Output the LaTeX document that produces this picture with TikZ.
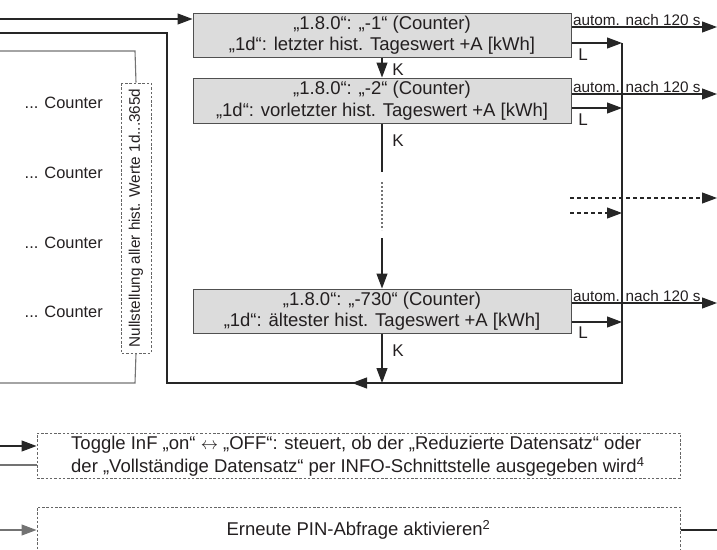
\documentclass[tikz,border=0pt]{standalone}
\usepackage{fontspec}
\setmainfont{Liberation Sans}
\usetikzlibrary{arrows.meta}
\definecolor{txt}{HTML}{231F20}
\definecolor{boxfill}{HTML}{DCDCDC}
\definecolor{boxline}{HTML}{505050}
\begin{document}
\begin{tikzpicture}[x=1pt,y=-1pt,
  ln/.style={line width=1.1pt, draw=black!85},
  gln/.style={line width=1.1pt, draw=black!55},
  arr/.style={ln, -{Triangle[length=15pt,width=11pt]}},
  garr/.style={gln, -{Triangle[length=15pt,width=11pt]}},
  darr/.style={arr, dash pattern=on 4pt off 3pt},
  valbox/.style={draw=boxline, fill=boxfill, line width=1pt, minimum width=378pt,
    minimum height=44pt, inner sep=0pt, align=center, text=txt,
    font=\fontsize{18.5}{21.5}\selectfont},
  dbox/.style={draw=black!60, dash pattern=on 2.5pt off 1.8pt, line width=1pt, inner sep=0pt},
  small/.style={font=\fontsize{15.3}{17}\selectfont, inner sep=1pt, text=txt},
  cnt/.style={font=\fontsize{16.4}{18}\selectfont, inner sep=0pt, text=txt, anchor=east},
  lab/.style={font=\fontsize{17}{19}\selectfont, inner sep=0pt, text=txt},
  big/.style={font=\fontsize{18.5}{23}\selectfont, inner sep=0pt, text=txt},
]
\useasboundingbox (0,0) rectangle (717,549);

% value boxes
\node[valbox] (b1) at (382,35) {„1.8.0“: „-1“ (Counter)\\„1d“: letzter hist. Tageswert +A [kWh]};
\node[valbox, minimum height=45pt] (b2) at (382,100.5) {„1.8.0“: „-2“ (Counter)\\„1d“: vorletzter hist. Tageswert +A [kWh]};
\node[valbox] (b3) at (382,311) {„1.8.0“: „-730“ (Counter)\\„1d“: ältester hist. Tageswert +A [kWh]};

% left counters
\node[cnt] (c1) at (103,103) {... Counter};
\node[cnt] (c2) at (103,173) {... Counter};
\node[cnt] (c3) at (103,243) {... Counter};
\node[cnt] (c4) at (103,312) {... Counter};

% reset box (vertical)
\node[dbox, rotate=90, minimum width=270pt, minimum height=30pt, small, inner sep=0pt] (null) at (136,218)
  {Nullstellung aller hist. Werte 1d...365d};

% coordinates
\coordinate (inA) at (0,19);
\coordinate (inB) at (0,33);
\coordinate (inC) at (0,51);
\coordinate (bl) at (167,33);
\coordinate (blb) at (167,383);
\coordinate (rt) at (622,43);
\coordinate (rb) at (622,383);
\coordinate (mid) at (352,383);
\coordinate (nt) at (135,51);
\coordinate (nb) at (135,383);
\coordinate (outC) at (0,383);

% input arrow to b1
\draw[arr] (inA) -- (inA -| b1.west);
% loop back line
\draw[ln] (rt) -- (rb) -- (blb) -- (bl) -- (inB);
\draw[arr] (rb) -- (mid);
% reset line
\draw[gln] (inC) -- (nt) -- (null.east);
\draw[gln] (null.west) -- (nb) -- (outC);

% right edge coordinates
\coordinate (e1) at (717,27);
\coordinate (e2) at (717,94);
\coordinate (e3) at (717,303);
\coordinate (l1) at (622,43);
\coordinate (l2) at (622,108);
\coordinate (l3) at (622,322);

% autom arrows
\draw[arr] (b1.east |- e1) -- (e1);
\draw[arr] (b2.east |- e2) -- (e2);
\draw[arr] (b3.east |- e3) -- (e3);
\node[small, anchor=south west] (a1) at (572,27) {autom. nach 120 s};
\node[small, anchor=south west] (a2) at (572,94) {autom. nach 120 s};
\node[small, anchor=south west] (a3) at (572,303) {autom. nach 120 s};

% L arrows
\draw[arr] (b1.east |- l1) -- (l1);
\draw[arr] (b2.east |- l2) -- (l2);
\draw[arr] (b3.east |- l3) -- (l3);
\node[lab] (L1) at (583,55) {L};
\node[lab] (L2) at (583,120) {L};
\node[lab] (L3) at (583,333) {L};

% dashed continuation arrows
\coordinate (d1s) at (570,198);
\coordinate (d1e) at (717,198);
\coordinate (d2s) at (570,213);
\coordinate (d2e) at (622,213);
\draw[darr] (d1s) -- (d1e);
\draw[darr] (d2s) -- (d2e);

% K arrows
\draw[arr] (b1.south) -- (b2.north);
\node[lab] (K1) at (398,70) {K};
\coordinate (k2a) at (382,172);
\coordinate (k2b) at (382,182);
\coordinate (k2c) at (382,230);
\coordinate (k2d) at (382,238);
\draw[ln] (b2.south) -- (k2a);
\draw[gln, dash pattern=on 2pt off 2pt] (k2b) -- (k2c);
\draw[arr] (k2d) -- (b3.north);
\node[lab] (K2) at (398,141) {K};
\coordinate (k3) at (382,383);
\draw[arr] (b3.south) -- (k3);
\node[lab] (K3) at (398,351) {K};

% toggle box
\node[dbox, minimum width=643pt, minimum height=45pt] (toggle) at (358.5,455.5) {};
\node[big, anchor=west, align=left] (toggletxt) at (71,456)
  {Toggle InF „on“ $\leftrightarrow$ „OFF“: steuert, ob der „Reduzierte Datensatz“ oder\\
   der „Vollständige Datensatz“ per INFO-Schnittstelle ausgegeben wird\textsuperscript{4}};
\coordinate (t1) at (0,446);
\coordinate (t2) at (0,465);
\draw[arr] (t1) -- (t1 -| toggle.west);
\draw[gln] (t2) -- (t2 -| toggle.west);

% PIN box
\node[dbox, minimum width=643pt, minimum height=46pt, big] (pin) at (358.5,530)
  {Erneute PIN-Abfrage aktivieren\textsuperscript{2}};
\coordinate (p1) at (0,530);
\coordinate (p2) at (717,530);
\draw[garr] (p1) -- (pin.west);
\draw[ln] (pin.east) -- (p2);
\end{tikzpicture}
\end{document}
